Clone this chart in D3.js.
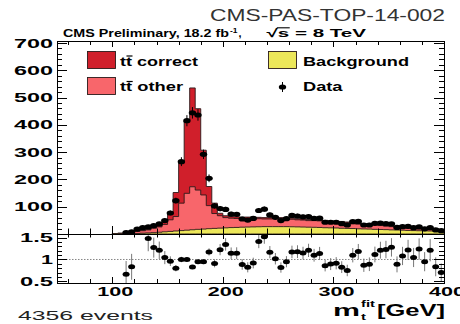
<!DOCTYPE html>
<html>
<head>
<meta charset="utf-8">
<script src="https://cdn.jsdelivr.net/npm/d3@7/dist/d3.min.js"></script>
<style>
  body { margin: 0; background: #fff; }
  svg { display: block; }
  text { font-family: "Liberation Sans", Arial, Helvetica, sans-serif; }
</style>
</head>
<body>
<svg id="chart" width="460" height="324"></svg>
<script>
// Fitted top-quark mass, 5 GeV bins (lower bin edges in GeV)
const massBinLow = [100,105,110,115,120,125,130,135,140,145,150,155,160,165,170,175,180,185,190,195,
                    200,205,210,215,220,225,230,235,240,245,250,255,260,265,270,275,280,285,290,295,
                    300,305,310,315,320,325,330,335,340,345,350,355,360,365,370,375,380,385,390,395];
const binWidth = 5;

// Simulated contributions (events per bin)
const background = [0.5,0.8,1,1.5,2,3,4,5,6.5,8,9.5,11,12.5,14,15.5,17,18,19.5,20.5,21.5,
                    22.5,23.5,24,25,25.5,26,26.5,27,27,27,27,27,26.5,26,25.5,25,24.5,24,23,22.5,
                    22,21,20.5,20,19,18.5,18,17,16.5,16,15,14.5,14,13,12.5,12,11.5,11,10.5,10];
const ttOther = [0.8,1.8,5,6.5,7.5,9,11,16,19.5,27,42.5,53,100.5,135,157.5,144,125,84.5,54.5,45.5,
                 37.5,34.5,33,32,31.5,31,29.5,28,28,29,29,28,27.5,26,25.5,24,24.5,24,24,22.5,
                 22,22,20.5,18,17,16.5,16,16,14.5,13,12,10.5,9,8,7.5,7,6.5,6,5.5,5];
const ttCorrect = [0.2,0.4,1.5,1.6,1.5,2,2.6,3.4,4.6,12,28,88,152,266,362,298,164,70,38,9,
                   7,6,6,5,5,5,5,5,5,4,4,4,4,4,4,4,3,3,3,3,
                   3,3,3,3,3,3,3,2,2,2,2,2,2,2,2,2,2,2,2,2];
// Observed events per bin
const dataCounts = [0,0,5,8,18,23,26,31,37,49,77,122,265,415,444,436,292,204,103,93,
                    90,73,72,55,51,57,86,91,70,61,49,56,68,66,63,64,57,58,43,43,
                    43,38,33,45,46,33,33,39,40,38,37,24,27,28,23,26,19,23,15,12];

const xTickLabels = [100, 200, 300, 400];
const yTickLabels = [100, 200, 300, 400, 500, 600, 700];
const ratioTickLabels = [0.5, 1, 1.5];
const totalEvents = 4356;

const colors = { correct: "#d01f2b", other: "#f8666b", bkg: "#ece75a", line: "#2a1a1a" };

const svg = d3.select("#chart");

// Panel geometry
const L = 57, R = 444, mainTop = 41, mainBot = 234, ratioBot = 283;

const x = d3.scaleLinear().domain([50, 400]).range([L, R]);
const y = d3.scaleLinear().domain([0, 707]).range([mainBot, mainTop]);
const yr = d3.scaleLinear().domain([0.465, 1.58]).range([ratioBot, mainBot]);

// Stacked bin tables
const bins = massBinLow.map((lo, i) => {
  const b = background[i], o = ttOther[i], c = ttCorrect[i];
  return { lo, hi: lo + binWidth, mid: lo + binWidth / 2, bkg: b, bo: b + o, all: b + o + c, n: dataCounts[i] };
});

function stepPoints(key) {
  const pts = [];
  bins.forEach(d => { pts.push([d.lo, d[key]]); pts.push([d.hi, d[key]]); });
  return pts;
}
const area = d3.area().x(p => x(p[0])).y0(y(0)).y1(p => y(p[1]));

svg.append("clipPath").attr("id", "clipMain")
  .append("rect").attr("x", L).attr("y", mainTop).attr("width", R - L).attr("height", mainBot - mainTop);
svg.append("clipPath").attr("id", "clipRatio")
  .append("rect").attr("x", L).attr("y", mainBot).attr("width", R - L).attr("height", ratioBot - mainBot);

const gMain = svg.append("g").attr("clip-path", "url(#clipMain)");
[["all", colors.correct], ["bo", colors.other], ["bkg", colors.bkg]].forEach(([key, fill]) => {
  gMain.append("path").datum(stepPoints(key)).attr("d", area)
    .attr("fill", fill).attr("stroke", colors.line).attr("stroke-width", 0.9);
});

// Poisson-style error bars from the counts
const withData = bins.filter(d => d.n > 0);
gMain.selectAll("line.err").data(withData).join("line")
  .attr("x1", d => x(d.mid)).attr("x2", d => x(d.mid))
  .attr("y1", d => y(d.n + Math.sqrt(d.n))).attr("y2", d => y(Math.max(0, d.n - Math.sqrt(d.n))))
  .attr("stroke", "#000").attr("stroke-width", 1);
gMain.selectAll("ellipse.pt").data(withData).join("ellipse")
  .attr("cx", d => x(d.mid)).attr("cy", d => y(d.n)).attr("rx", 3.7).attr("ry", 2.6).attr("fill", "#000");

// Ratio panel
const gRatio = svg.append("g").attr("clip-path", "url(#clipRatio)");
gRatio.append("line").attr("x1", L).attr("x2", R).attr("y1", yr(1)).attr("y2", yr(1))
  .attr("stroke", "#666").attr("stroke-width", 0.8).attr("stroke-dasharray", "1.5,1.5");
const ratioPts = withData.map(d => ({ mid: d.mid, r: d.n / d.all, e: Math.sqrt(d.n) / d.all }))
  .filter(d => d.r > 0.465 && d.r < 1.58);
gRatio.selectAll("line.rerr").data(ratioPts).join("line")
  .attr("x1", d => x(d.mid)).attr("x2", d => x(d.mid))
  .attr("y1", d => yr(d.r + d.e)).attr("y2", d => yr(d.r - d.e))
  .attr("stroke", "#777").attr("stroke-width", 1);
gRatio.selectAll("ellipse.rpt").data(ratioPts).join("ellipse")
  .attr("cx", d => x(d.mid)).attr("cy", d => yr(d.r)).attr("rx", 3.5).attr("ry", 2.5).attr("fill", "#000");

// Frames
svg.append("rect").attr("x", L + 0.5).attr("y", mainTop + 0.5).attr("width", R - L).attr("height", mainBot - mainTop)
  .attr("fill", "none").attr("stroke", "#000").attr("stroke-width", 1);
svg.append("rect").attr("x", L + 0.5).attr("y", mainBot + 0.5).attr("width", R - L).attr("height", ratioBot - mainBot)
  .attr("fill", "none").attr("stroke", "#000").attr("stroke-width", 1);

// Ticks (pointing inward, on all four sides)
const ticks = svg.append("g").attr("stroke", "#000").attr("stroke-width", 1);
d3.range(0, 701, 20).forEach(v => {
  const len = v % 100 === 0 ? 10 : 5, yy = Math.round(y(v)) + 0.5;
  ticks.append("line").attr("x1", L).attr("x2", L + len).attr("y1", yy).attr("y2", yy);
  ticks.append("line").attr("x1", R).attr("x2", R - len).attr("y1", yy).attr("y2", yy);
});
d3.range(60, 401, 20).forEach(g => {
  const big = g % 100 === 0, xx = Math.round(x(g)) + 0.5;
  ticks.append("line").attr("x1", xx).attr("x2", xx).attr("y1", mainBot).attr("y2", mainBot - (big ? 8 : 5.5));
  ticks.append("line").attr("x1", xx).attr("x2", xx).attr("y1", mainTop).attr("y2", mainTop + (big ? 6 : 4));
  ticks.append("line").attr("x1", xx).attr("x2", xx).attr("y1", ratioBot).attr("y2", ratioBot - (big ? 6 : 4));
  ticks.append("line").attr("x1", xx).attr("x2", xx).attr("y1", mainBot).attr("y2", mainBot + (big ? 5 : 3.5));
});
d3.range(0.5, 1.51, 0.1).forEach(v => {
  const major = Math.abs(v * 2 - Math.round(v * 2)) < 1e-6, yy = Math.round(yr(v)) + 0.5;
  const len = major ? 10 : 5;
  ticks.append("line").attr("x1", L).attr("x2", L + len).attr("y1", yy).attr("y2", yy);
  ticks.append("line").attr("x1", R).attr("x2", R - len).attr("y1", yy).attr("y2", yy);
});

// Text helper: width fitted with textLength (labels are drawn wide)
function fitText(parent, x0, x1, base, str, size, weight, fill) {
  const t = parent.append("text").attr("x", x0).attr("y", base)
    .attr("font-size", size).attr("font-weight", weight || "normal").attr("fill", fill || "#000")
    .style("white-space", "pre").text(str);
  const natural = t.node().getComputedTextLength();
  t.attr("textLength", x1 - x0).attr("lengthAdjust", "spacingAndGlyphs");
  t.k = (x1 - x0) / natural;
  return t;
}
function charSpan(t, i) {
  const n = t.node();
  t.attr("textLength", null);
  const s = n.getStartPositionOfChar(i).x, e = n.getEndPositionOfChar(i).x, x0 = +t.attr("x");
  return [x0 + (s - x0) * t.k, x0 + (e - x0) * t.k];
}
function fitTextRestore(t, x0, x1) { t.attr("textLength", x1 - x0).attr("lengthAdjust", "spacingAndGlyphs"); }

const labels = svg.append("g");

// Axis numbers
yTickLabels.forEach(v => {
  fitText(labels, 14, 53, y(v) + 4.6, String(v), 12.5, "bold");
});
const ratioLabelWidth = { 0.5: 33, 1: 12, 1.5: 33 };
ratioTickLabels.forEach(v => {
  fitText(labels, 53 - ratioLabelWidth[v], 53, yr(v) + 4.4, String(v), 12.5, "bold");
});
xTickLabels.forEach(v => {
  const c = x(v) + 3;
  fitText(labels, c - 18, c + 18, 295.5, String(v), 12.5, "bold");
});

// Axis title m_t^fit [GeV]
fitText(labels, 333, 360, 315.5, "m", 16, "bold");
fitText(labels, 361, 375, 306.5, "fit", 9.5, "bold");
fitText(labels, 361, 366, 319.5, "t", 9.5, "bold");
fitText(labels, 377, 445, 315.5, "[GeV]", 16, "bold");

// Header lines
fitText(labels, 210, 445, 20.5, "CMS-PAS-TOP-14-002", 17, "normal", "#333");
fitText(labels, 63, 229, 37, "CMS Preliminary, 18.2 fb", 11.5, "bold");
fitText(labels, 230, 237.5, 32.5, "-1", 8, "bold");
fitText(labels, 238.5, 241.5, 37, ",", 11.5, "bold");
const rs = fitText(labels, 266.5, 366, 37, "\u221As = 8 TeV", 11.5, "bold");
{
  const a = charSpan(rs, 0), b = charSpan(rs, 1);
  fitTextRestore(rs, 266.5, 366);
  labels.append("line").attr("x1", a[1] - 1).attr("x2", b[1] + 0.5).attr("y1", 27.8).attr("y2", 27.8)
    .attr("stroke", "#000").attr("stroke-width", 1.1);
}

// Event count
fitText(labels, 18, 153, 320, totalEvents + " events", 12.6, "normal", "#222");

// Legend
const legend = svg.append("g");
function ttbarLabel(x0, x1, base, str) {
  const t = fitText(legend, x0, x1, base, str, 12, "bold");
  const s = charSpan(t, 1);
  fitTextRestore(t, x0, x1);
  legend.append("line").attr("x1", s[0] + 0.5).attr("x2", s[1] + 0.5).attr("y1", base - 9.5).attr("y2", base - 9.5)
    .attr("stroke", "#000").attr("stroke-width", 1.2);
}
legend.append("rect").attr("x", 87.5).attr("y", 51.5).attr("width", 28).attr("height", 17)
  .attr("fill", colors.correct).attr("stroke", colors.line).attr("stroke-width", 0.9);
ttbarLabel(120, 198, 65.5, "tt correct");
legend.append("rect").attr("x", 87.5).attr("y", 77.5).attr("width", 28).attr("height", 17)
  .attr("fill", colors.other).attr("stroke", colors.line).attr("stroke-width", 0.9);
ttbarLabel(120, 183, 91, "tt other");
legend.append("rect").attr("x", 268.5).attr("y", 51.5).attr("width", 28).attr("height", 17)
  .attr("fill", colors.bkg).attr("stroke", colors.line).attr("stroke-width", 0.9);
fitText(legend, 303, 409, 65.5, "Background", 12, "bold");
legend.append("line").attr("x1", 282.5).attr("x2", 282.5).attr("y1", 82).attr("y2", 92).attr("stroke", "#000");
legend.append("ellipse").attr("cx", 282.5).attr("cy", 87).attr("rx", 3.7).attr("ry", 2.6).attr("fill", "#000");
fitText(legend, 303, 342.5, 91, "Data", 12, "bold");
</script>
</body>
</html>
